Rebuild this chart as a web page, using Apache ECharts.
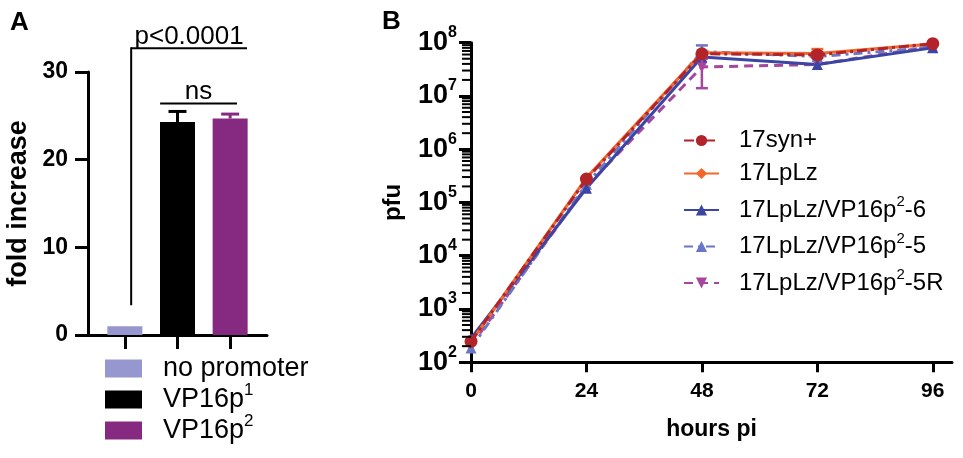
<!DOCTYPE html>
<html><head><meta charset="utf-8">
<script src="https://cdn.jsdelivr.net/npm/echarts@6/dist/echarts.min.js"></script>
<style>html,body{margin:0;padding:0;background:#fff}#c{width:963px;height:458px}</style>
</head><body><div id="c"></div>
<script>
// ---------- Panel A data ----------
const barCategories = ['no promoter', 'VP16p1', 'VP16p2'];
const barPositions = [1, 2, 3];
const barValues = [1.0, 24.3, 24.7];
const barErrors = [0, 1.2, 0.5];
const barColors = ['#9797D0', '#000000', '#852A80'];
const sigBrackets = [
  { label: 'p<0.0001', from: 1.12, to: 3.32, level: 32.7, drop: 3.4 },
  { label: 'ns', from: 1.67, to: 3.13, level: 26.4, drop: null }
];

// ---------- Panel B data ----------
const hours = [0, 24, 48, 72, 96];
const xTicksB = [0, 24, 48, 72, 96];
const seriesNames = ['17syn+', '17LpLz', '17LpLz/VP16p2-6', '17LpLz/VP16p2-5', '17LpLz/VP16p2-5R'];
const pfu_17syn = [245, 2.75e5, 6.2e7, 5.9e7, 9.6e7];
const pfu_17LpLz = [240, 2.9e5, 6.5e7, 6.3e7, 9.5e7];
const pfu_p6 = [280, 1.85e5, 5.4e7, 3.9e7, 8.0e7];
const pfu_p5 = [185, 2.2e5, 6.8e7, 5.5e7, 8.2e7];
const pfu_p5R = [205, 2.0e5, 3.5e7, 3.9e7, 8.6e7];
// error ranges [low, high] (null = not visible)
const err_17syn = [null, null, null, [5.2e7, 6.7e7], null];
const err_17LpLz = [null, null, null, [5.4e7, 7.6e7], null];
const err_p6 = [null, null, null, null, null];
const err_p5 = [null, null, [5.6e7, 8.9e7], null, null];
const err_p5R = [null, null, [1.4e7, 5.0e7], null, null];

const FONT = 'Liberation Sans, Arial, sans-serif';
const seriesColors = ['#B2232A', '#F2682A', '#3B45A3', '#6A76C6', '#A6479E'];
const seriesValues = [pfu_17syn, pfu_17LpLz, pfu_p6, pfu_p5, pfu_p5R];
const seriesErrors = [err_17syn, err_17LpLz, err_p6, err_p5, err_p5R];
const lineTypes = [[10, 4, 3, 4], 'solid', 'solid', [9, 5, 3, 5], [9, 6]];
const symbols = ['circle', 'diamond', 'triangle', 'triangle', 'triangle'];
const symbolSizes = [13, 8, 11, 11, 11];
const symbolRotates = [0, 0, 0, 0, 180];
const drawOrder = [4, 3, 2, 1, 0];

// logarithmic minor tick values (axis decoration)
const minorTickValues = [];
for (let e = 2; e < 8; e++) for (let m = 2; m <= 9; m++) minorTickValues.push(m * Math.pow(10, e));

function supName(n) {
  const m = n.match(/^(.*VP16p)(\d)(.*)$/);
  if (!m) return '{n|' + n + '}';
  return '{n|' + m[1] + '}{s|' + m[2] + '}' + (m[3] ? '{n|' + m[3] + '}' : '');
}

const chart = echarts.init(document.getElementById('c'), null, { renderer: 'canvas' });

const series = [];
// Panel A bars
barCategories.forEach((name, i) => {
  series.push({
    name, type: 'bar', xAxisIndex: 0, yAxisIndex: 0,
    barWidth: 35, barGap: '-100%',
    itemStyle: { color: barColors[i] },
    data: [[barPositions[i], barValues[i]]],
    z: 2
  });
});
// Panel A error bars
series.push({
  type: 'custom', xAxisIndex: 0, yAxisIndex: 0, silent: true, clip: false, z: 3,
  data: barPositions.map((p, i) => [p, barValues[i], barErrors[i]]),
  renderItem(params, api) {
    const i = params.dataIndex;
    if (!barErrors[i]) return null;
    const a = api.coord([barPositions[i], barValues[i]]);
    const b = api.coord([barPositions[i], barValues[i] + barErrors[i]]);
    const w = 9;
    return { type: 'group', children: [
      { type: 'line', shape: { x1: a[0], y1: a[1], x2: b[0], y2: b[1] }, style: { stroke: barColors[i], lineWidth: 3 } },
      { type: 'line', shape: { x1: b[0] - w, y1: b[1], x2: b[0] + w, y2: b[1] }, style: { stroke: barColors[i], lineWidth: 3 } }
    ]};
  }
});
// Panel A significance brackets
series.push({
  type: 'custom', xAxisIndex: 0, yAxisIndex: 0, silent: true, clip: false, z: 5,
  data: sigBrackets.map(b => [b.from, b.level]),
  renderItem(params, api) {
    const b = sigBrackets[params.dataIndex];
    const p1 = api.coord([b.from, b.level]);
    const p2 = api.coord([b.to, b.level]);
    const ch = [{ type: 'line', shape: { x1: p1[0], y1: p1[1], x2: p2[0], y2: p2[1] }, style: { stroke: '#000', lineWidth: 2 } }];
    if (b.drop != null) {
      const p0 = api.coord([b.from, b.drop]);
      ch.push({ type: 'line', shape: { x1: p0[0], y1: p0[1], x2: p1[0], y2: p1[1] - 1 }, style: { stroke: '#000', lineWidth: 2 } });
    }
    ch.push({ type: 'text', x: (p1[0] + p2[0]) / 2, y: p1[1] + 1,
      style: { text: b.label, fontSize: 26, fontFamily: FONT, fill: '#000', align: 'center', verticalAlign: 'bottom' } });
    return { type: 'group', children: ch };
  }
});

// Panel B lines
drawOrder.forEach(k => {
  series.push({
    name: seriesNames[k], type: 'line', xAxisIndex: 1, yAxisIndex: 1,
    data: hours.map((h, i) => [h, seriesValues[k][i]]),
    symbol: symbols[k], symbolSize: symbolSizes[k], symbolRotate: symbolRotates[k],
    lineStyle: { width: 3, type: lineTypes[k], color: seriesColors[k] },
    itemStyle: { color: seriesColors[k] },
    z: k === 0 ? 5 : 3
  });
});
// Panel B error bars
const errData = [];
seriesErrors.forEach((arr, k) => arr.forEach((e, i) => { if (e) errData.push([hours[i], e[0], e[1], k]); }));
series.push({
  type: 'custom', xAxisIndex: 1, yAxisIndex: 1, silent: true, clip: false, z: 4,
  data: errData,
  renderItem(params, api) {
    const d = errData[params.dataIndex];
    const lo = api.coord([d[0], d[1]]);
    const hi = api.coord([d[0], d[2]]);
    const c = seriesColors[d[3]];
    const w = 6;
    return { type: 'group', children: [
      { type: 'line', shape: { x1: lo[0], y1: lo[1], x2: hi[0], y2: hi[1] }, style: { stroke: c, lineWidth: 2.5 } },
      { type: 'line', shape: { x1: lo[0] - w, y1: lo[1], x2: lo[0] + w, y2: lo[1] }, style: { stroke: c, lineWidth: 2.5 } },
      { type: 'line', shape: { x1: hi[0] - w, y1: hi[1], x2: hi[0] + w, y2: hi[1] }, style: { stroke: c, lineWidth: 2.5 } }
    ]};
  }
});

const legendRichA = {
  n: { fontSize: 27, padding: [4, 0, 4, 0], color: '#000', fontFamily: FONT },
  s: { fontSize: 17, verticalAlign: 'top', color: '#000', fontFamily: FONT }
};
const legendRichB = {
  n: { fontSize: 24, padding: [3.5, 0, 3.5, 0], color: '#000', fontFamily: FONT },
  s: { fontSize: 15, verticalAlign: 'top', color: '#000', fontFamily: FONT }
};

const option = {
  animation: false,
  textStyle: { fontFamily: FONT, color: '#000' },
  title: [
    { text: 'A', left: 5, top: 5, textStyle: { fontSize: 26, fontWeight: 'bold', color: '#000', fontFamily: FONT } },
    { text: 'B', left: 377, top: 4, textStyle: { fontSize: 26, fontWeight: 'bold', color: '#000', fontFamily: FONT } }
  ],
  legend: [
    {
      data: barCategories, orient: 'vertical', left: 100, top: 350,
      icon: 'rect', itemWidth: 37, itemHeight: 18, itemGap: 0,
      selectedMode: false,
      formatter: supName,
      textStyle: { fontSize: 27, color: '#000', fontFamily: FONT, padding: [0, 0, 0, 16], rich: legendRichA }
    },
    {
      data: seriesNames, orient: 'vertical', left: 678, top: 123.5,
      itemWidth: 35, itemHeight: 14, itemGap: 9,
      selectedMode: false,
      formatter: supName,
      textStyle: { fontSize: 24, color: '#000', fontFamily: FONT, padding: [0, 0, 0, 15], rich: legendRichB }
    }
  ],
  grid: [
    { left: 88, top: 72, width: 179, height: 263 },
    { left: 471, top: 42.7, width: 481, height: 319.5 }
  ],
  xAxis: [
    {
      gridIndex: 0, type: 'value', min: 0.3, max: 3.7,
      axisLine: { show: true, lineStyle: { color: '#000', width: 3 } },
      axisTick: { show: true, customValues: barPositions, length: 14, lineStyle: { color: '#000', width: 3 } },
      axisLabel: { show: false },
      splitLine: { show: false }
    },
    {
      gridIndex: 1, type: 'value', min: 0, max: 100,
      name: 'hours pi', nameLocation: 'middle', nameGap: 56,
      nameTextStyle: { fontSize: 23, fontWeight: 'bold', color: '#000', fontFamily: FONT },
      axisLine: { show: true, lineStyle: { color: '#000', width: 3 } },
      axisTick: { show: true, customValues: xTicksB, length: 10, lineStyle: { color: '#000', width: 3 } },
      axisLabel: { customValues: xTicksB, fontSize: 21, fontWeight: 'bold', color: '#000', margin: 19, fontFamily: FONT },
      splitLine: { show: false }
    }
  ],
  yAxis: [
    {
      gridIndex: 0, type: 'value', min: 0, max: 30, interval: 10,
      name: 'fold increase', nameLocation: 'middle', nameGap: 56, nameRotate: 90,
      nameTextStyle: { fontSize: 27, fontWeight: 'bold', color: '#000', fontFamily: FONT },
      axisLine: { show: true, lineStyle: { color: '#000', width: 3 } },
      axisTick: { show: true, length: 13, lineStyle: { color: '#000', width: 3 } },
      axisLabel: { fontSize: 23, fontWeight: 'bold', color: '#000', margin: 20, fontFamily: FONT },
      splitLine: { show: false }
    },
    {
      gridIndex: 1, type: 'log', logBase: 10, min: 100, max: 1e8, splitNumber: 6,
      name: 'pfu', nameLocation: 'middle', nameGap: 66, nameRotate: 90,
      nameTextStyle: { fontSize: 24, fontWeight: 'bold', color: '#000', fontFamily: FONT },
      axisLine: { show: true, lineStyle: { color: '#000', width: 3 } },
      axisTick: { show: true, length: 12, lineStyle: { color: '#000', width: 3 } },
      minorTick: { show: false },
      axisLabel: {
        margin: 14, color: '#000',
        formatter: v => '{b|10}{s|' + Math.round(Math.log10(v)) + '}',
        rich: {
          b: { fontSize: 27, fontWeight: 'bold', lineHeight: 36, color: '#000', fontFamily: FONT },
          s: { fontSize: 16, fontWeight: 'bold', lineHeight: 14, verticalAlign: 'top', color: '#000', fontFamily: FONT }
        }
      },
      splitLine: { show: false }
    }
  ],
  series
};
chart.setOption(option);

// logarithmic minor ticks on the pfu axis, positioned through the axis scale
const axisX = chart.convertToPixel({ xAxisIndex: 1 }, 0);
chart.setOption({
  graphic: minorTickValues.map(v => {
    const y = chart.convertToPixel({ yAxisIndex: 1 }, v);
    return { type: 'line', silent: true, z: 100,
      shape: { x1: axisX - 9, y1: y, x2: axisX, y2: y },
      style: { stroke: '#000', lineWidth: 2 } };
  })
});
</script>
</body></html>
